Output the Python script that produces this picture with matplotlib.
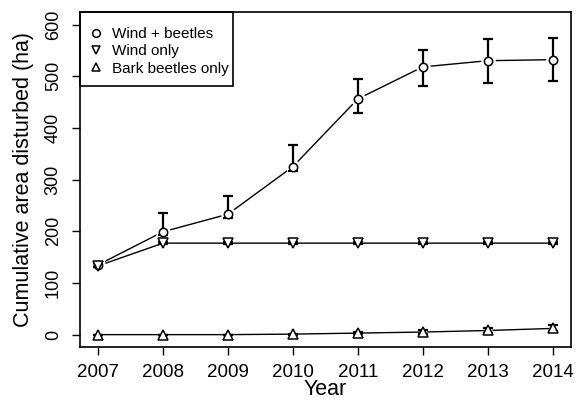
import matplotlib
matplotlib.use("Agg")
import matplotlib.pyplot as plt
from matplotlib.patches import Rectangle
import numpy as np

plt.rcParams['font.family'] = ['Liberation Sans', 'DejaVu Sans']

years = [2007, 2008, 2009, 2010, 2011, 2012, 2013, 2014]
wb_mean = [135, 199, 233, 325, 456, 518, 530, 532]
wb_low = [131, 192, 225, 316, 429, 481, 487, 491]
wb_high = [139, 235, 269, 367, 495, 551, 572, 574]
wind_mean = [133, 177, 177, 177, 177, 177, 177, 177]
wind_low = [131, 175, 175, 175, 175, 175, 175, 175]
wind_high = [139, 179, 179, 179, 179, 179, 179, 179]
bb_mean = [0, 0, 0, 1, 3, 5, 8, 12]
bb_low = [0, 0, 0, 0, 1, 2, 4, 7]
bb_high = [0, 0, 0, 2, 5, 9, 13, 19]
labels = ["Wind + beetles", "Wind only", "Bark beetles only"]
yticks = [0, 100, 200, 300, 400, 500, 600]

fig = plt.figure(figsize=(5.83, 4.04), dpi=100)
ax = fig.add_axes([0.137, 0.141, 0.842, 0.829])

series = [(wb_mean, wb_low, wb_high, 'o', 6.0), (wind_mean, wind_low, wind_high, 'v', 6.5), (bb_mean, bb_low, bb_high, '^', 6.5)]
handles = []
for (m, lo, hi, mk, ms), lab in zip(series, labels):
    m = np.array(m, float); lo = np.array(lo, float); hi = np.array(hi, float)
    ax.plot(years, m, color='black', lw=1.0, zorder=1)
    ax.plot(years, m, ls='none', marker=mk, ms=ms + 4.5, mfc='white', mec='none', zorder=2)
    ax.errorbar(years, m, yerr=[m - lo, hi - m], fmt='none', ecolor='black', elinewidth=1.6, capsize=3.6, capthick=1.6, zorder=3)
    ax.plot(years, m, ls='none', marker=mk, ms=ms, mfc='white', mec='black', mew=1.1, zorder=4)
    handles.append(ax.plot([], [], ls='none', marker=mk, ms=ms - 0.5, mfc='white', mec='black', mew=1.1)[0])

ax.set_xlim(2007 - 0.28, 2014 + 0.28)
ax.set_ylim(-24, 624)
ax.set_xticks(years)
ax.set_xticklabels([str(y) for y in years], fontsize=13.5)
ax.set_yticks(yticks)
ax.set_yticklabels([str(v) for v in yticks], fontsize=13, rotation=90, va='center')
ax.tick_params(axis='x', direction='out', length=6, width=1.0, pad=6)
ax.tick_params(axis='y', direction='out', length=6, width=1.0, pad=7)
for s in ax.spines.values():
    s.set_linewidth(1.2)
ax.set_xlabel("Year", fontsize=15.5, labelpad=-1)
ax.set_ylabel("Cumulative area disturbed (ha)", fontsize=15.5, labelpad=8)

leg = ax.legend(handles, labels, loc='upper left', bbox_to_anchor=(0.012, 0.968), fontsize=11,
                frameon=False, borderaxespad=0, borderpad=0.3,
                handlelength=0.8, handletextpad=0.6, labelspacing=0.2)
ax.add_patch(Rectangle((0, 1 - 0.221), 0.312, 0.221, transform=ax.transAxes, fill=False,
                       edgecolor='black', lw=1.2, zorder=5, clip_on=False))

fig.savefig("out.png", dpi=100)
